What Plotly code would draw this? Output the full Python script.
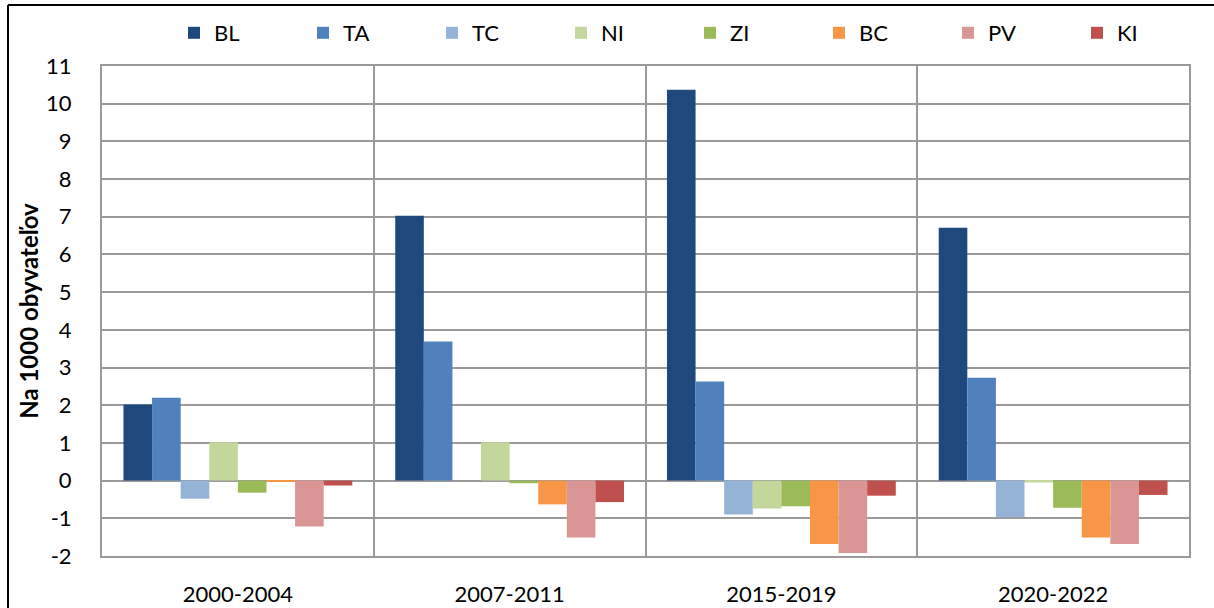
import plotly.graph_objects as go

categories = ["2000-2004", "2007-2011", "2015-2019", "2020-2022"]
series_names = ["BL", "TA", "TC", "NI", "ZI", "BC", "PV", "KI"]
BL = [2.02, 7.03, 10.37, 6.71]
TA = [2.20, 3.69, 2.63, 2.73]
TC = [-0.48, 0.0, -0.90, -0.97]
NI = [1.02, 1.02, -0.74, -0.05]
ZI = [-0.32, -0.07, -0.68, -0.72]
BC = [-0.03, -0.63, -1.68, -1.51]
PV = [-1.22, -1.51, -1.92, -1.68]
KI = [-0.13, -0.57, -0.40, -0.38]
series_values = [BL, TA, TC, NI, ZI, BC, PV, KI]
colors = ["#1F497D", "#4F81BD", "#95B3D7", "#C3D69B", "#9BBB59", "#F79646", "#D99694", "#C0504D"]
y_ticks = list(range(-2, 12))

FONT = "Lato, Carlito, 'Open Sans', sans-serif"
GRID = "#9A9A9A"

fig = go.Figure()
for name, vals, col in zip(series_names, series_values, colors):
    fig.add_trace(go.Bar(
        name=name, x=categories, y=vals,
        marker=dict(color=col, line=dict(width=0)),
    ))

W, H = 1214, 608
L, R, T, B = 102, 25, 66, 52
pw, ph = W - L - R, H - T - B

def px_x(x):
    return (x - L) / pw

def px_y(y):
    return (H - B - y) / ph

border = dict(color="black", width=2)

fig.update_layout(
    width=W, height=H,
    margin=dict(l=L, r=R, t=T, b=B, autoexpand=False),
    paper_bgcolor="white", plot_bgcolor="white",
    barmode="group", bargap=0.158, bargroupgap=0,
    font=dict(family=FONT, size=22, color="black"),
    legend=dict(
        orientation="h", x=px_x(174), y=px_y(33), yanchor="middle", xanchor="left",
        entrywidth=84, entrywidthmode="pixels",
        font=dict(family=FONT, size=22, color="black"),
        bgcolor="rgba(0,0,0,0)", traceorder="normal",
    ),
    xaxis=dict(
        type="category", tickson="boundaries", showgrid=True, gridcolor=GRID, gridwidth=2,
        showline=True, linecolor=GRID, linewidth=2, mirror=True,
        ticks="", ticklabelstandoff=18, automargin=False,
        tickfont=dict(family=FONT, size=22, color="black"),
    ),
    yaxis=dict(
        range=[-2, 11], tickvals=y_ticks, ticktext=[str(v) for v in y_ticks],
        showgrid=True, gridcolor=GRID, gridwidth=2,
        zeroline=True, zerolinecolor=GRID, zerolinewidth=2,
        showline=True, linecolor=GRID, linewidth=2, mirror=True,
        ticks="", ticklabelstandoff=24, automargin=False,
        tickfont=dict(family=FONT, size=22, color="black"),
        title=dict(text="<b>Na 1000 obyvateľov</b>", standoff=1,
                   font=dict(family=FONT, size=24, color="black")),
    ),
    shapes=[
        dict(type="line", xref="paper", yref="paper",
             x0=px_x(8), x1=px_x(1230), y0=px_y(5), y1=px_y(5), line=border, layer="above"),
        dict(type="line", xref="paper", yref="paper",
             x0=px_x(8), x1=px_x(8), y0=px_y(5), y1=px_y(630), line=border, layer="above"),
    ],
)

fig.write_html(
    "out.html",
    config={"displayModeBar": False},
    post_script="document.body.style.margin='0';document.body.style.overflow='hidden';",
)
